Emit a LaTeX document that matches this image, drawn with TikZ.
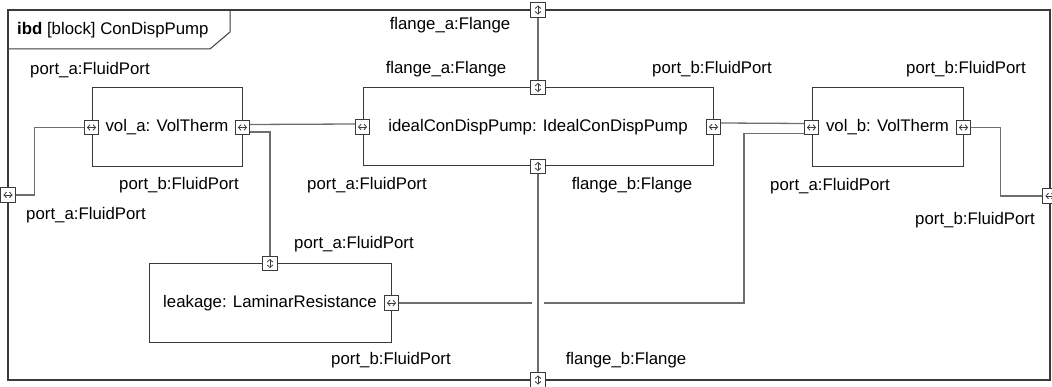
\documentclass[tikz,border=0pt]{standalone}
\usepackage{fontspec}
\setmainfont{Liberation Sans}
\usetikzlibrary{arrows.meta}
\definecolor{edgecol}{HTML}{3A3A3A}
\definecolor{wirecol}{HTML}{6E6E6E}
\tikzset{
  block/.style={draw=edgecol, line width=1pt, inner sep=0pt, fill=white},
  port/.style={draw=edgecol, line width=0.9pt, fill=white, minimum size=14.5pt, inner sep=0pt},
  dbl/.style={draw=edgecol, line width=0.8pt, {Straight Barb[length=2.6pt,width=5.5pt]}-{Straight Barb[length=2.6pt,width=5.5pt]}},
  porth/.style={port, path picture={\draw[dbl] ([xshift=2.6pt]path picture bounding box.west) -- ([xshift=-2.6pt]path picture bounding box.east);}},
  portv/.style={port, path picture={\draw[dbl] ([yshift=-2.6pt]path picture bounding box.north) -- ([yshift=2.6pt]path picture bounding box.south);}},
  wire/.style={draw=wirecol, line width=1.3pt},
  lbl/.style={inner sep=0pt, text=black},
}
\begin{document}
\begin{tikzpicture}[x=1pt, y=-1pt, font=\fontsize{16.8}{20}\selectfont]
\useasboundingbox (0,0) rectangle (1052,387);
% frame
\draw[draw=edgecol, line width=1.2pt] (8,10) rectangle (1050,380);
\draw[draw=edgecol, line width=1pt] (8,49) -- (210,49) -- (230,32) -- (230,10);
\node[lbl, anchor=west] (title) at (17,30) {\textbf{ibd} [block] ConDispPump};

% blocks
\node[block, minimum width=150pt, minimum height=79pt] (vola) at (167,127.5) {vol\_a: VolTherm};
\node[block, minimum width=350pt, minimum height=78pt] (ideal) at (538,127) {idealConDispPump: IdealConDispPump};
\node[block, minimum width=151pt, minimum height=79pt] (volb) at (887.5,127.5) {vol\_b: VolTherm};
\node[block, minimum width=242pt, minimum height=78pt] (leak) at (270,303) {leakage: LaminarResistance};

% ports
\node[porth] (va_a) at (vola.west) {};
\node[porth] (va_b) at (vola.east) {};
\node[porth] (id_a) at (ideal.west) {};
\node[porth] (id_b) at (ideal.east) {};
\node[portv] (id_fa) at (ideal.north) {};
\node[portv] (id_fb) at (ideal.south) {};
\node[porth] (vb_a) at (volb.west) {};
\node[porth] (vb_b) at (volb.east) {};
\node[portv] (lk_a) at (leak.north) {};
\node[porth] (lk_b) at (leak.east) {};
\node[porth] (fr_a) at (8,195) {};
\node[porth] (fr_b) at (1050,196) {};
\node[portv] (fr_fa) at (538,10) {};
\node[portv] (fr_fb) at (538,380) {};

% connectors
\draw[wire] (fr_a.east) -- ++(19,0) |- (va_a.west);
\draw[wire] ([yshift=3pt]va_b.east) -- ([yshift=3pt]id_a.west);
\draw[wire] ([yshift=-4.5pt]va_b.east) -| (lk_a.north);
\draw[wire] (fr_fa.south) -- (id_fa.north);
\draw[wire] ([yshift=4pt]id_b.east) -- ([yshift=4pt]vb_a.west);
\coordinate (bend) at (744,303);
\draw[wire] (lk_b.east) -- (bend) |- ([yshift=-6pt]vb_a.west);
\coordinate (jmp) at (id_fb |- lk_b);
\draw[white, line width=12pt] ([yshift=2pt]jmp) -- ([yshift=-2pt]jmp);
\draw[wire] (id_fb.south) -- (fr_fb.north);
\draw[wire] (vb_b.east) -- ++(29,0) |- (fr_b.west);

% labels
\node[lbl] (l1) at (90,70) {port\_a:FluidPort};
\node[lbl] (l2) at (450,25) {flange\_a:Flange};
\node[lbl] (l3) at (446,69) {flange\_a:Flange};
\node[lbl] (l4) at (712,69) {port\_b:FluidPort};
\node[lbl] (l5) at (966,69) {port\_b:FluidPort};
\node[lbl] (l6) at (179,185) {port\_b:FluidPort};
\node[lbl] (l7) at (86,215) {port\_a:FluidPort};
\node[lbl] (l8) at (367,185) {port\_a:FluidPort};
\node[lbl] (l9) at (632,185) {flange\_b:Flange};
\node[lbl] (l10) at (830,186) {port\_a:FluidPort};
\node[lbl] (l11) at (975,220) {port\_b:FluidPort};
\node[lbl] (l12) at (354,244) {port\_a:FluidPort};
\node[lbl] (l13) at (391,360) {port\_b:FluidPort};
\node[lbl] (l14) at (626,360) {flange\_b:Flange};
\end{tikzpicture}
\end{document}
